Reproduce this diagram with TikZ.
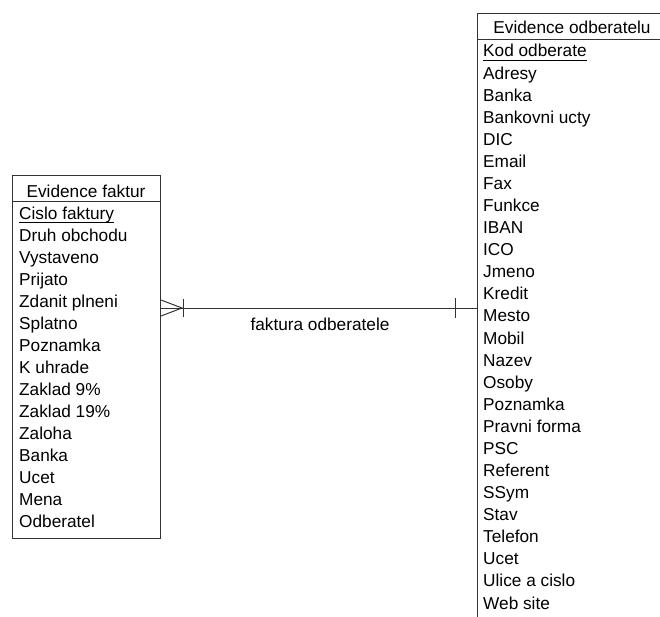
\documentclass[tikz,border=0pt]{standalone}
\usepackage{fontspec}
\setmainfont{Liberation Sans}
\newcommand\erfont{\fontsize{17.3}{20}\selectfont}
\tikzset{
  er/.style={draw=black!80, line width=1bp},
  entity/.style={er, rectangle, inner sep=0, anchor=north west},
  attr/.style={anchor=base west, inner sep=0, font=\erfont},
  caption/.style={anchor=base, inner sep=0, font=\erfont},
}
\begin{document}
\begin{tikzpicture}[x=1bp, y=-1bp]
\useasboundingbox (0,0) rectangle (660,617);

% entity: invoices
\node[entity, minimum width=148bp, minimum height=363bp] (faktury) at (12,175) {};
\draw[er] (12,201) -- (160,201);
\node[caption] (faktury-title) at (86,198) {Evidence faktur};
\node[attr] (faktury-key) at (19,219) {Cislo faktury};
\draw[line width=1bp] ([yshift=-3.2bp]faktury-key.base west) -- ([yshift=-3.2bp]faktury-key.base east);
\foreach \t [count=\i] in {Druh obchodu, Vystaveno, Prijato, Zdanit plneni, Splatno,
    Poznamka, K uhrade, Zaklad 9\%, Zaklad 19\%, Zaloha, Banka, Ucet, Mena, Odberatel}
  \node[attr] (faktury-\i) at (19,219+22*\i) {\t};

% entity: customers (runs past the page edge)
\node[entity, minimum width=192bp, minimum height=700bp] (odberatele) at (477,13) {};
\draw[er] (477,40) -- (669,40);
\node[caption] (odberatele-title) at (572,34) {Evidence odberatelu};
\node[attr] (odberatele-key) at (483,57) {Kod odberate};
\draw[line width=1bp] ([yshift=-3.2bp]odberatele-key.base west) -- ([yshift=-3.2bp]odberatele-key.base east);
\foreach \t [count=\i] in {Adresy, Banka, Bankovni ucty, DIC, Email, Fax, Funkce, IBAN,
    ICO, Jmeno, Kredit, Mesto, Mobil, Nazev, Osoby, Poznamka, Pravni forma, PSC,
    Referent, SSym, Stav, Telefon, Ucet, Ulice a cislo, Web site}
  \node[attr] (odberatele-\i) at (483,57+22.08*\i) {\t};

% relationship: many invoices -- one customer
\coordinate (rel-a) at (faktury.east |- 0,308);
\coordinate (rel-b) at (odberatele.west |- 0,308);
\draw[er] (rel-a) -- (rel-b);
% crow's foot at the invoice end
\draw[er] ([yshift=8bp]rel-a) -- ([xshift=21bp]rel-a) -- ([yshift=-8bp]rel-a);
\draw[er] ([xshift=22bp,yshift=9bp]rel-a) -- ([xshift=22bp,yshift=-9bp]rel-a);
% single bar at the customer end
\draw[er] ([xshift=-22bp,yshift=10bp]rel-b) -- ([xshift=-22bp,yshift=-10bp]rel-b);
\node[caption] (rel-label) at (320,330) {faktura odberatele};
\end{tikzpicture}
\end{document}
